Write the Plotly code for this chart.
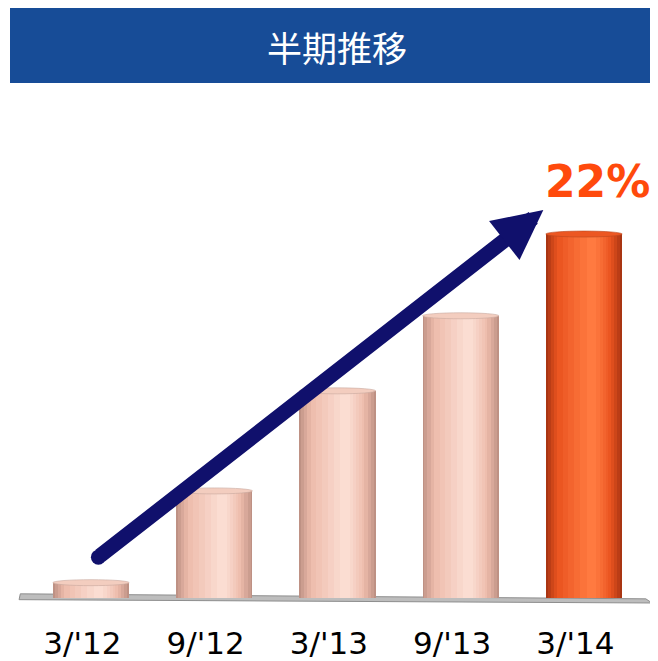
import plotly.graph_objects as go

# ---- data ----
categories = ["3/'12", "9/'12", "3/'13", "9/'13", "3/'14"]
values = [1.1, 6.6, 12.6, 17.1, 22.0]
highlight_label = "22%"
title_text = "半期推移"

# ---- layout geometry (page body has an 8px margin) ----
OFF = 8
W, H = 658 - OFF, 661 - OFF
ML, MR, MT, MB = 0, 6, 92, 49
PX_PER_X = 123.25
PX_PER_Y = 16.68
X_ZERO_PX = 91 - OFF
Y_ZERO_PX = 598 - OFF
plot_w = W - ML - MR
plot_h = H - MT - MB
x_lo = (ML - X_ZERO_PX) / PX_PER_X
x_hi = x_lo + plot_w / PX_PER_X
y_lo = -(MT + plot_h - Y_ZERO_PX) / PX_PER_Y
y_hi = (Y_ZERO_PX - MT) / PX_PER_Y


def px_to_paper_x(px):
    return (px - OFF - ML) / plot_w


def px_to_paper_y(py):
    return 1 + (MT - (py - OFF)) / plot_h


def mix(c1, c2, t):
    a = [int(c1[i:i + 2], 16) for i in (1, 3, 5)]
    b = [int(c2[i:i + 2], 16) for i in (1, 3, 5)]
    return "#" + "".join(f"{round(x + (y - x) * t):02X}" for x, y in zip(a, b))


n_layers = 10
layer_widths = [0.62 - 0.62 * (k / n_layers) ** 1.3 for k in range(n_layers)]
pale_edge, pale_mid, pale_hi = "#BE9184", "#EDBBAB", "#FBDDD2"
hot_edge, hot_mid, hot_hi = "#A93512", "#E9531F", "#FF7A40"


def shade(edge, mid, hi, k):
    t = k / (n_layers - 1)
    return mix(edge, mid, t / 0.4) if t < 0.4 else mix(mid, hi, (t - 0.4) / 0.6)


cap = 0.18
fig = go.Figure()
xs = list(range(len(categories)))
for k, wd in enumerate(layer_widths):
    off = 0.0 if k < 5 else 0.012 * (k - 4)
    colors = [shade(pale_edge, pale_mid, pale_hi, k)] * (len(values) - 1) + \
             [shade(hot_edge, hot_mid, hot_hi, k)]
    fig.add_trace(go.Bar(
        x=[x + off for x in xs], y=[v - cap for v in values], width=wd,
        marker=dict(color=colors, line=dict(width=0)),
        hoverinfo="skip", showlegend=False,
    ))

shapes = []
# title banner
shapes.append(dict(
    type="rect", xref="paper", yref="paper", layer="above",
    x0=px_to_paper_x(10), x1=px_to_paper_x(670),
    y0=px_to_paper_y(83), y1=px_to_paper_y(8),
    fillcolor="#174C97", line=dict(width=0),
))
# floor
shapes.append(dict(
    type="path", xref="x", yref="y", layer="below",
    path=f"M {x_lo + 0.1},{0.25} L {x_hi - 0.05},{-0.05} L {x_hi},{-0.3} L {x_lo + 0.09},{-0.1} Z",
    fillcolor="#BDBDBD", line=dict(color="#8E8E8E", width=1),
))
# cylinder tops
for i, v in enumerate(values):
    top_fill = "#F3CDBF" if i < len(values) - 1 else "#EC5722"
    top_line = "#C7A79E" if i < len(values) - 1 else "#B8461E"
    shapes.append(dict(
        type="circle", xref="x", yref="y", layer="above",
        x0=i - 0.31, x1=i + 0.31, y0=v - 2 * cap, y1=v,
        fillcolor=top_fill, line=dict(color=top_line, width=0.6),
    ))

# arrow
arrow_color = "#10106C"
start_x, start_y = xs[0] + 0.06, values[0] + 1.35
tip_x, tip_y = xs[-1] - 0.33, values[-1] + 1.26
fig.add_trace(go.Scatter(
    x=[start_x], y=[start_y], mode="markers",
    marker=dict(size=15, color=arrow_color, line=dict(width=0)),
    hoverinfo="skip", showlegend=False,
))

annotations = [
    dict(x=tip_x, y=tip_y, xref="x", yref="y", ax=start_x, ay=start_y,
         axref="x", ayref="y", text="", showarrow=True, arrowhead=2,
         arrowwidth=15, arrowsize=0.66, arrowcolor=arrow_color, standoff=0),
    dict(x=xs[-1], y=values[-1], xref="x", yref="y", text=f"<b>{highlight_label}</b>",
         showarrow=False, xshift=13, yshift=50, yanchor="middle",
         font=dict(family="DejaVu Sans", size=44, color="#FF4A0C")),
    dict(x=px_to_paper_x(337), y=px_to_paper_y(46), xref="paper", yref="paper",
         xanchor="center", yanchor="middle", text=title_text, showarrow=False,
         font=dict(family="Noto Sans CJK JP", size=35, color="white")),
]

fig.update_layout(
    width=W, height=H, margin=dict(l=ML, r=MR, t=MT, b=MB, autoexpand=False),
    barmode="overlay", bargap=0,
    paper_bgcolor="white", plot_bgcolor="white",
    shapes=shapes, annotations=annotations,
    xaxis=dict(range=[x_lo, x_hi], tickmode="array", automargin=False,
               tickvals=[x - 0.07 for x in xs], ticktext=categories,
               showgrid=False, zeroline=False, showline=False, ticks="",
               tickfont=dict(family="DejaVu Sans", size=31, color="black"),
               ticklabelstandoff=10),
    yaxis=dict(range=[y_lo, y_hi], visible=False, showgrid=False, zeroline=False,
               automargin=False),
)

fig.write_html("out.html", default_width=f"{W}px", default_height=f"{H}px")
